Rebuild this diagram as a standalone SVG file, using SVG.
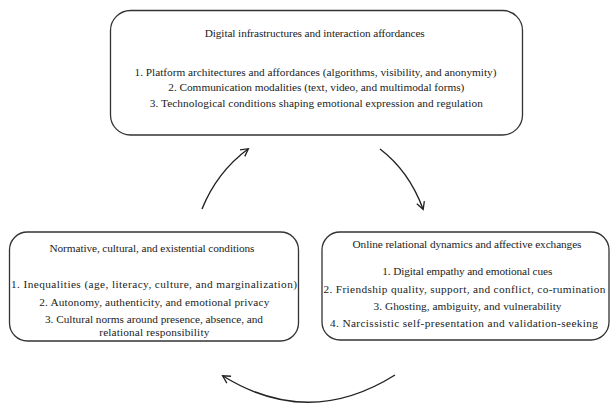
<svg xmlns="http://www.w3.org/2000/svg" width="611" height="404" viewBox="0 0 611 404">
<defs>
<marker id="ah" markerWidth="10" markerHeight="10" refX="8" refY="5" orient="auto" markerUnits="userSpaceOnUse">
<path d="M1,1 L8.5,5 L1,9" fill="none" stroke="#222" stroke-width="1.3"/>
</marker>
<style>
.box{fill:#fff;stroke:#333;stroke-width:1.3}
.t{font-family:"Liberation Serif","DejaVu Serif",serif;font-size:11.3px;fill:#222;text-anchor:middle}
.c{fill:none;stroke:#222;stroke-width:1.4;marker-end:url(#ah)}
</style>
</defs>
<rect width="611" height="404" fill="#fff"/>
<g id="node-top">
<rect class="box" x="110.5" y="10.5" width="412" height="124.5" rx="20"/>
<text class="t" x="314.7" y="37" textLength="220" lengthAdjust="spacing">Digital infrastructures and interaction affordances</text>
<text class="t" x="315.5" y="76" textLength="362" lengthAdjust="spacing">1. Platform architectures and affordances (algorithms, visibility, and anonymity)</text>
<text class="t" x="316.3" y="91" textLength="296" lengthAdjust="spacing">2. Communication modalities (text, video, and multimodal forms)</text>
<text class="t" x="316.3" y="106.5" textLength="333" lengthAdjust="spacing">3. Technological conditions shaping emotional expression and regulation</text>
</g>
<g id="node-left">
<rect class="box" x="9.5" y="232" width="289" height="109" rx="18"/>
<text class="t" x="152" y="252" textLength="205" lengthAdjust="spacing">Normative, cultural, and existential conditions</text>
<text class="t" x="154" y="288" textLength="286" lengthAdjust="spacing">1. Inequalities (age, literacy, culture, and marginalization)</text>
<text class="t" x="154.3" y="305.5" textLength="230" lengthAdjust="spacing">2. Autonomy, authenticity, and emotional privacy</text>
<text class="t" x="154" y="323" textLength="218" lengthAdjust="spacing">3. Cultural norms around presence, absence, and</text>
<text class="t" x="154.3" y="335.5" textLength="110" lengthAdjust="spacing">relational responsibility</text>
</g>
<g id="node-right">
<rect class="box" x="322" y="232" width="287" height="108" rx="18"/>
<text class="t" x="467" y="248" textLength="229" lengthAdjust="spacing">Online relational dynamics and affective exchanges</text>
<text class="t" x="467.3" y="275" textLength="170" lengthAdjust="spacing">1. Digital empathy and emotional cues</text>
<text class="t" x="464.5" y="292.5" textLength="282" lengthAdjust="spacing">2. Friendship quality, support, and conflict, co-rumination</text>
<text class="t" x="467.5" y="310" textLength="188" lengthAdjust="spacing">3. Ghosting, ambiguity, and vulnerability</text>
<text class="t" x="464" y="327" textLength="268" lengthAdjust="spacing">4. Narcissistic self-presentation and validation-seeking</text>
</g>
<g id="connectors">
<path class="c" d="M202,209 Q217,172 248,149"/>
<path class="c" d="M380,149 Q409,171 423,209"/>
<path class="c" d="M395,375 Q309,429 223,376"/>
</g>
</svg>
